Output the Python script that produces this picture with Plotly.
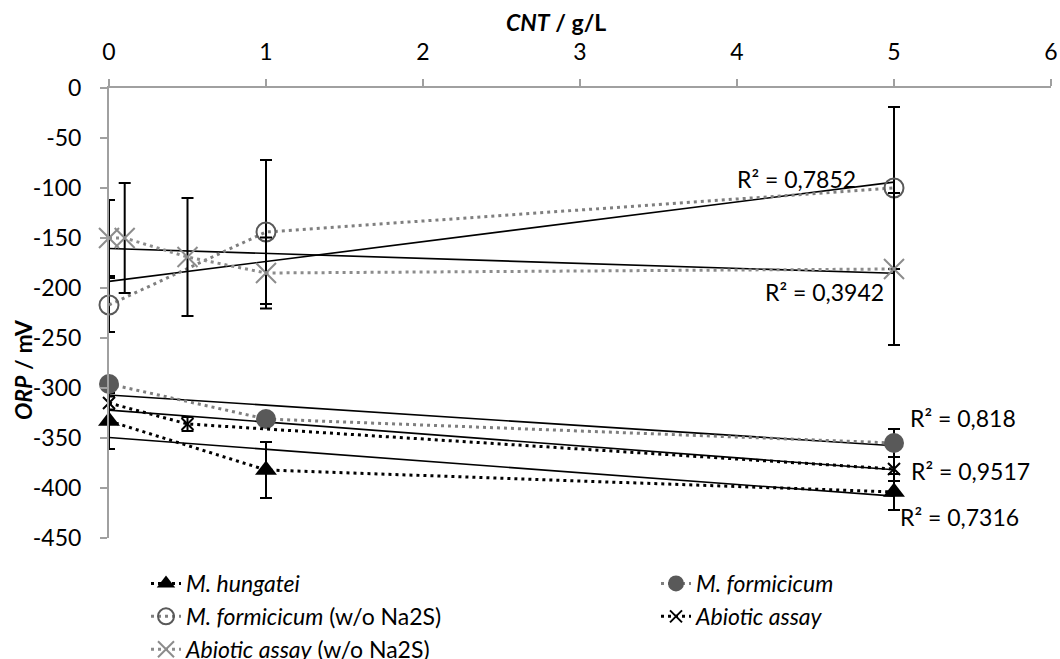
import numpy as np
import plotly.graph_objects as go

# ---------------- data ----------------
x_hung = [0, 1, 5]
y_hung = [-333, -382, -404]
e_hung = [28, 28, 18]

x_form = [0, 1, 5]
y_form = [-296, -331, -355]
e_form = [0, 0, 14]

x_formwo = [0, 1, 5]
y_formwo = [-217, -144, -100]
e_formwo = [27, 72, 81]

x_abio = [0, 0.5, 5]
y_abio = [-315, -336, -381]
e_abio = [6.5, 7, 12]

x_abiowo = [0, 0.1, 0.5, 1, 5]
y_abiowo = [-150, -150, -169, -185, -181]
e_abiowo = [38, 55, 59, 35.5, 76]

r2_texts = ["R² = 0,7852", "R² = 0,3942", "R² = 0,818", "R² = 0,9517", "R² = 0,7316"]

x_ticks = [0, 1, 2, 3, 4, 5, 6]
y_ticks = [0, -50, -100, -150, -200, -250, -300, -350, -400, -450]
y_ticktext = ["0", "-50", "-100", "-150", "-200", "-250", "-300", "-350", "-400", "-450"]

names = {
    "hung": "<i>M. hungatei</i>",
    "form": "<i>M. formicicum</i>",
    "formwo": "<i>M. formicicum</i> (w/o Na2S)",
    "abio": "<i>Abiotic assay</i>",
    "abiowo": "<i>Abiotic assay</i> (w/o Na2S)",
}

FONT = "Lato"
FS = 23
DOT = "3px,4px"

fig = go.Figure()

def err(vals):
    return dict(type="data", array=vals, visible=True, color="black", thickness=2, width=6)

def trend(xs, ys):
    k, b = np.polyfit(np.array(xs, float), np.array(ys, float), 1)
    xx = np.array([0.0, 5.0])
    fig.add_trace(go.Scatter(x=xx, y=k * xx + b, mode="lines",
                             line=dict(color="black", width=1.6),
                             showlegend=False, hoverinfo="skip", cliponaxis=False))

# trendlines
trend(x_formwo, y_formwo)
trend(x_abiowo, y_abiowo)
trend(x_form, y_form)
trend(x_abio, y_abio)
trend(x_hung, y_hung)

# series
fig.add_trace(go.Scatter(x=x_hung, y=y_hung, name=names["hung"], mode="lines+markers",
                         line=dict(color="black", width=3, dash=DOT),
                         marker=dict(symbol="triangle-up", size=19, color="black"),
                         error_y=err(e_hung), cliponaxis=False, legend="legend"))
fig.add_trace(go.Scatter(x=x_form, y=y_form, name=names["form"], mode="lines+markers",
                         line=dict(color="#7f7f7f", width=3, dash=DOT),
                         marker=dict(symbol="circle", size=20, color="#595959"),
                         error_y=err(e_form), cliponaxis=False, legend="legend2"))
fig.add_trace(go.Scatter(x=x_formwo, y=y_formwo, name=names["formwo"], mode="lines+markers",
                         line=dict(color="#7f7f7f", width=3, dash=DOT),
                         marker=dict(symbol="circle-open", size=19, color="#595959",
                                     line=dict(width=2, color="#595959")),
                         error_y=err(e_formwo), cliponaxis=False, legend="legend"))
fig.add_trace(go.Scatter(x=x_abio, y=y_abio, name=names["abio"], mode="lines+markers",
                         line=dict(color="black", width=3, dash=DOT),
                         marker=dict(symbol="x-thin-open", size=12, color="black",
                                     line=dict(width=2, color="black")),
                         error_y=err(e_abio), cliponaxis=False, legend="legend2"))
fig.add_trace(go.Scatter(x=x_abiowo, y=y_abiowo, name=names["abiowo"], mode="lines+markers",
                         line=dict(color="#8c8c8c", width=3, dash=DOT),
                         marker=dict(symbol="x-thin-open", size=20, color="#8c8c8c",
                                     line=dict(width=2, color="#8c8c8c")),
                         error_y=err(e_abiowo), cliponaxis=False, legend="legend"))

# R² labels
r2_pos = [(4.38, -91), (4.56, -204), (5.44, -330), (5.49, -383), (5.42, -429)]
for t, (ax, ay) in zip(r2_texts, r2_pos):
    fig.add_annotation(x=ax, y=ay, xref="x", yref="y", text=t, showarrow=False,
                       xanchor="center", yanchor="middle",
                       font=dict(family=FONT, size=FS, color="black"))

# axis titles
fig.add_annotation(x=(556 - 109) / 942, y=1 + (88 - 22) / 450, xref="paper", yref="paper",
                   text="<b><i>CNT</i> / g/L</b>", showarrow=False,
                   xanchor="center", yanchor="middle",
                   font=dict(family=FONT, size=FS, color="black"))
fig.add_annotation(x=(23 - 109) / 942, y=(538 - 370) / 450, xref="paper", yref="paper",
                   text="<b><i>ORP</i> / mV</b>", showarrow=False, textangle=-90,
                   xanchor="center", yanchor="middle",
                   font=dict(family=FONT, size=FS, color="black"))

axis_common = dict(showline=True, linecolor="#a0a0a0", linewidth=2, ticks="outside",
                   tickcolor="#a0a0a0", ticklen=7, tickwidth=2, showgrid=False,
                   zeroline=False, automargin=False,
                   tickfont=dict(family=FONT, size=FS, color="black"))

fig.update_layout(
    width=1060, height=659,
    margin=dict(l=109, r=9, t=88, b=121, pad=0, autoexpand=False),
    paper_bgcolor="white", plot_bgcolor="white",
    font=dict(family=FONT, size=FS, color="black"),
    xaxis=dict(range=[0, 6], side="top", tickvals=x_ticks, ticklabelstandoff=10, **axis_common),
    yaxis=dict(range=[-450, 0], tickvals=y_ticks, ticktext=y_ticktext, ticklabelstandoff=14,
               **axis_common),
    legend=dict(x=(146 - 109) / 942, y=(538 - 562) / 450, xanchor="left", yanchor="top",
                orientation="v", bgcolor="rgba(0,0,0,0)",
                font=dict(family=FONT, size=FS, color="black")),
    legend2=dict(x=(656 - 109) / 942, y=(538 - 562) / 450, xanchor="left", yanchor="top",
                 orientation="v", bgcolor="rgba(0,0,0,0)",
                 font=dict(family=FONT, size=FS, color="black")),
    showlegend=True,
)

fig.write_html("out.html")
